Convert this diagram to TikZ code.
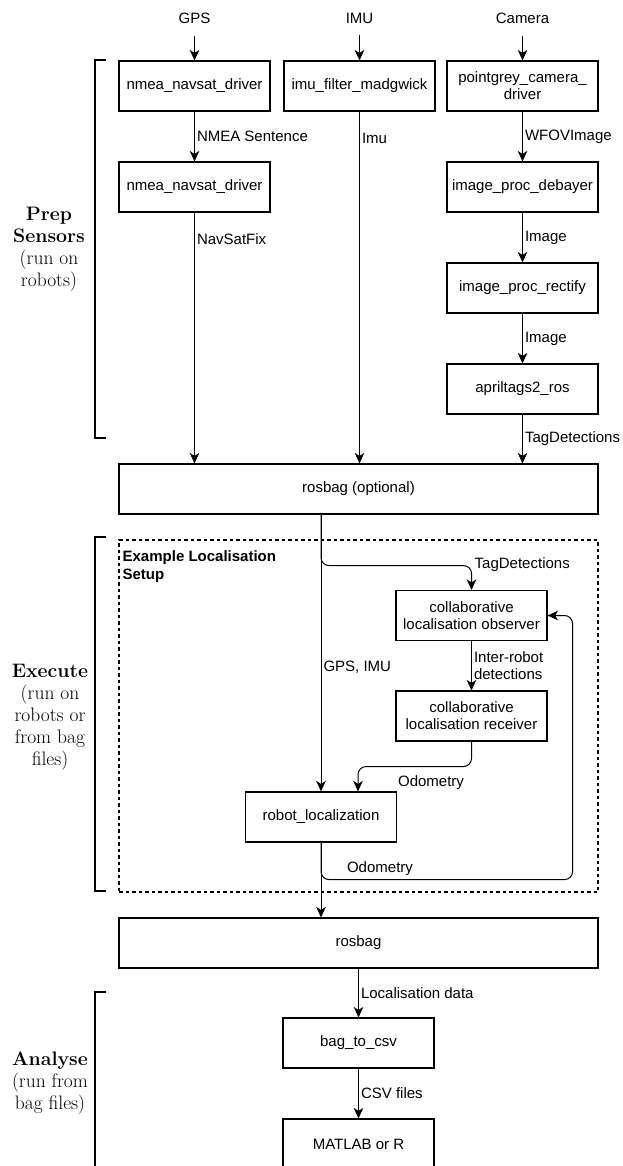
\documentclass[tikz,border=0pt]{standalone}
\usepackage{fontspec}
\newfontfamily\sansf{Liberation Sans}
\usetikzlibrary{arrows.meta,calc}
\begin{document}
\begin{tikzpicture}[x=1pt,y=-1pt,
  box/.style={draw, line width=1.1pt, minimum width=151pt, minimum height=50pt, inner sep=2pt, align=center, font=\sansf\fontsize{15}{17}\selectfont},
  wide/.style={box, minimum width=479pt},
  src/.style={font=\sansf\fontsize{15}{17}\selectfont, inner sep=0pt},
  elab/.style={font=\sansf\fontsize{15}{17}\selectfont, inner sep=0pt, anchor=west, align=left},
  arr/.style={line width=1pt, -{Stealth[length=10.5pt,width=9.5pt,inset=3pt]}},
  brk/.style={line width=2.4pt},
  side/.style={align=center, font=\fontsize{19.5}{22}\selectfont, inner sep=0pt},
  dashbox/.style={draw, dash pattern=on 3.5pt off 3pt, line width=1.1pt, minimum width=479pt, minimum height=352pt, inner sep=0pt},
]
\useasboundingbox (0,0) rectangle (622,1166);
\clip (0,0) rectangle (622,1166);

% sources
\node[src] (gps) at (194.5,18) {GPS};
\node[src] (imul) at (359.5,18) {IMU};
\node[src] (cam) at (522.5,18) {Camera};

% prep boxes
\node[box] (n1) at (194.5,86) {nmea\_navsat\_driver};
\node[box] (imu) at (359.5,86) {imu\_filter\_madgwick};
\node[box] (pg) at (522.5,86) {pointgrey\_camera\_\\driver};
\node[box] (n2) at (194.5,187) {nmea\_navsat\_driver};
\node[box] (deb) at (522.5,187) {image\_proc\_debayer};
\node[box] (rect) at (522.5,288) {image\_proc\_rectify};
\node[box] (apt) at (522.5,389) {apriltags2\_ros};
\node[wide] (rb1) at (358.5,489) {rosbag (optional)};

% execute
\node[dashbox] (setup) at (358.5,716) {};
\node[font=\sansf\bfseries\fontsize{15}{18}\selectfont, align=left, anchor=north west, inner sep=0pt] (exl) at ($(setup.north west)+(4,11)$) {Example Localisation\\Setup};
\node[box] (obs) at (471.5,615.5) {collaborative\\localisation observer};
\node[box] (rec) at (471.5,716) {collaborative\\localisation receiver};
\node[box] (rl) at (321,817) {robot\_localization};
\node[wide] (rb2) at (358.5,943) {rosbag};

% analyse
\node[box] (b2c) at (358.5,1043) {bag\_to\_csv};
\node[box] (mat) at (358.5,1144) {MATLAB or R};

% source arrows
\draw[arr] ([yshift=-12pt]gps.south) -- (n1.north);
\draw[arr] ([yshift=-12pt]imul.south) -- (imu.north);
\draw[arr] ([yshift=-12pt]cam.south) -- (pg.north);

% prep connectors
\draw[arr] (n1) -- node[elab, xshift=2pt]{NMEA Sentence} (n2);
\draw[arr] (n2.south) -- node[elab, pos=0.107, xshift=2pt]{NavSatFix} (n2.south |- rb1.north);
\draw[arr] (imu.south) -- node[elab, pos=0.076, xshift=2pt]{Imu} (imu.south |- rb1.north);
\draw[arr] (pg) -- node[elab, xshift=2pt]{WFOVImage} (deb);
\draw[arr] (deb) -- node[elab, xshift=2pt]{Image} (rect);
\draw[arr] (rect) -- node[elab, xshift=2pt]{Image} (apt);
\draw[arr] (apt.south) -- node[elab, xshift=2pt]{TagDetections} (apt.south |- rb1.north);

% execute connectors
\draw[arr] (rb1.south -| rl.north) -- node[elab, pos=0.55, xshift=2pt]{GPS, IMU} (rl.north);
\draw[arr, rounded corners=8pt] (rb1.south -| rl.north) -- ++(0,51) -| (obs.north);
\node[elab] (tdl) at ($(obs.north)+(3,-25)$) {TagDetections};
\draw[arr] (obs) -- node[elab, xshift=2pt]{Inter-robot\\detections} (rec);
\draw[arr, rounded corners=8pt] (rec.south) -- ++(0,25) -| ($(rl.north)+(37,0)$);
\node[src] (od1) at ($(rec.south)+(-40.5,41)$) {Odometry};
\draw[arr] (rl.south) -- (rb2.north -| rl.south);
\draw[arr, rounded corners=8pt] (rl.south) -- ++(0,37) -| ($(obs.east)+(25,0)$) -- (obs.east);
\node[src] (od2) at ($(rl.south)+(59,26)$) {Odometry};

% analyse connectors
\draw[arr] (rb2.south -| b2c.north) -- node[elab, xshift=2pt]{Localisation data} (b2c.north);
\draw[arr] (b2c) -- node[elab, xshift=2pt]{CSV files} (mat);

% brackets
\draw[brk] (106,60) -- (95,60) -- (95,438) -- (106,438);
\draw[brk] (106,537) -- (95,537) -- (95,891) -- (106,891);
\draw[brk] (106,992) -- (95,992) -- (95,1172);

% side labels
\node[side] (prep) at (49,249) {\textbf{Prep}\\\textbf{Sensors}\\(run on\\robots)};
\node[side] (exec) at (50,717) {\textbf{Execute}\\(run on\\robots or\\from bag\\files)};
\node[side] (anal) at (50,1083) {\textbf{Analyse}\\(run from\\bag files)};
\end{tikzpicture}
\end{document}
